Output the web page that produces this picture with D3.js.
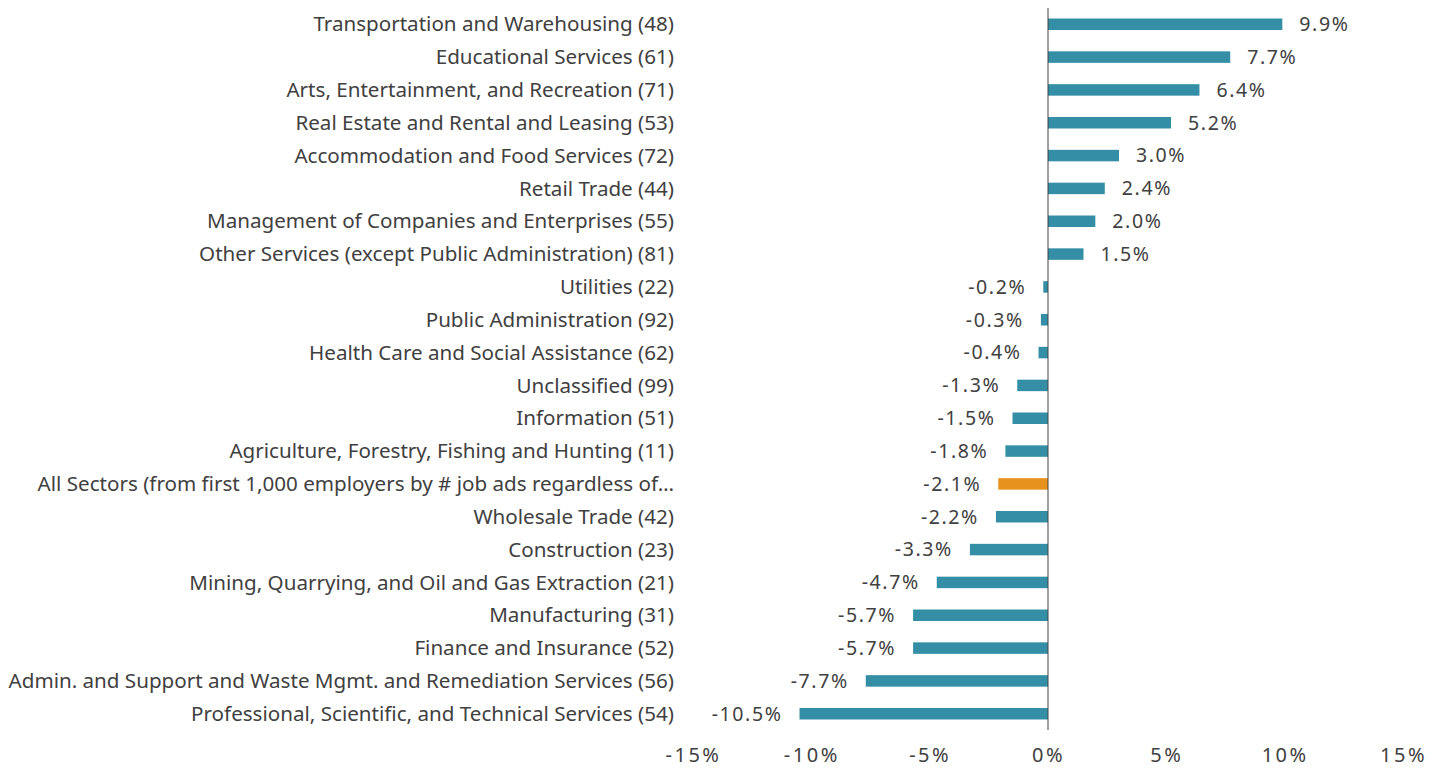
<!DOCTYPE html>
<html>
<head>
<meta charset="utf-8">
<script src="https://cdn.jsdelivr.net/npm/d3@7"></script>
<style>
  body { margin: 0; background: #fff; }
  text { font-family: "Century Gothic", "Noto Sans", sans-serif; fill: #404040; }
</style>
</head>
<body>
<div id="chart"></div>
<script>
var sectors = [
  "Transportation and Warehousing (48)",
  "Educational Services (61)",
  "Arts, Entertainment, and Recreation (71)",
  "Real Estate and Rental and Leasing (53)",
  "Accommodation and Food Services (72)",
  "Retail Trade (44)",
  "Management of Companies and Enterprises (55)",
  "Other Services (except Public Administration) (81)",
  "Utilities (22)",
  "Public Administration (92)",
  "Health Care and Social Assistance (62)",
  "Unclassified (99)",
  "Information (51)",
  "Agriculture, Forestry, Fishing and Hunting (11)",
  "All Sectors (from first 1,000 employers by # job ads regardless of\u2026",
  "Wholesale Trade (42)",
  "Construction (23)",
  "Mining, Quarrying, and Oil and Gas Extraction (21)",
  "Manufacturing (31)",
  "Finance and Insurance (52)",
  "Admin. and Support and Waste Mgmt. and Remediation Services (56)",
  "Professional, Scientific, and Technical Services (54)"
];
var changes = [9.9, 7.7, 6.4, 5.2, 3.0, 2.4, 2.0, 1.5, -0.2, -0.3, -0.4, -1.3, -1.5, -1.8, -2.1, -2.2, -3.3, -4.7, -5.7, -5.7, -7.7, -10.5];
var highlight = "All Sectors (from first 1,000 employers by # job ads regardless of\u2026";
var ticks = [-15, -10, -5, 0, 5, 10, 15];

var width = 1440, height = 769;

var svg = d3.select("#chart").append("svg")
    .attr("width", width)
    .attr("height", height);

var x = d3.scaleLinear()
    .domain([-15, 15])
    .range([693, 1403]);

var y = d3.scaleBand()
    .domain(sectors)
    .range([8, 730])
    .paddingInner(0.65)
    .paddingOuter(0.32);

var data = sectors.map(function (s, i) { return { name: s, value: changes[i] }; });

// bars
svg.append("g").selectAll("rect")
    .data(data)
    .join("rect")
    .attr("x", function (d) { return x(Math.min(0, d.value)); })
    .attr("y", function (d) { return y(d.name); })
    .attr("width", function (d) { return Math.abs(x(d.value) - x(0)); })
    .attr("height", y.bandwidth())
    .attr("fill", function (d) { return d.name === highlight ? "#e8921e" : "#348fa6"; });

// value labels
svg.append("g").selectAll("text")
    .data(data)
    .join("text")
    .attr("x", function (d) { return d.value >= 0 ? x(d.value) + 17 : x(d.value) - 17; })
    .attr("y", function (d) { return y(d.name) + y.bandwidth() / 2; })
    .attr("dy", "0.35em")
    .attr("text-anchor", function (d) { return d.value >= 0 ? "start" : "end"; })
    .style("font-size", "19.5px")
    .style("letter-spacing", "1.6px")
    .text(function (d) { return d.value.toFixed(1) + "%"; });

// category labels
svg.append("g").selectAll("text")
    .data(data)
    .join("text")
    .attr("x", 674)
    .attr("y", function (d) { return y(d.name) + y.bandwidth() / 2; })
    .attr("dy", "0.35em")
    .attr("text-anchor", "end")
    .style("font-size", "20.6px")
    .text(function (d) { return d.name; });

// zero line
svg.append("line")
    .attr("x1", x(0)).attr("x2", x(0))
    .attr("y1", 8).attr("y2", 730)
    .attr("stroke", "#404040")
    .attr("stroke-width", 1);

// x axis
var xAxis = svg.append("g")
    .attr("transform", "translate(0,745)")
    .call(d3.axisBottom(x).tickValues(ticks).tickSize(0).tickFormat(function (d) { return d + "%"; }));
xAxis.select(".domain").remove();
xAxis.selectAll("text")
    .style("font-size", "20px")
    .style("letter-spacing", "2.5px")
    .attr("fill", "#404040")
    .attr("font-family", null);
</script>
</body>
</html>
